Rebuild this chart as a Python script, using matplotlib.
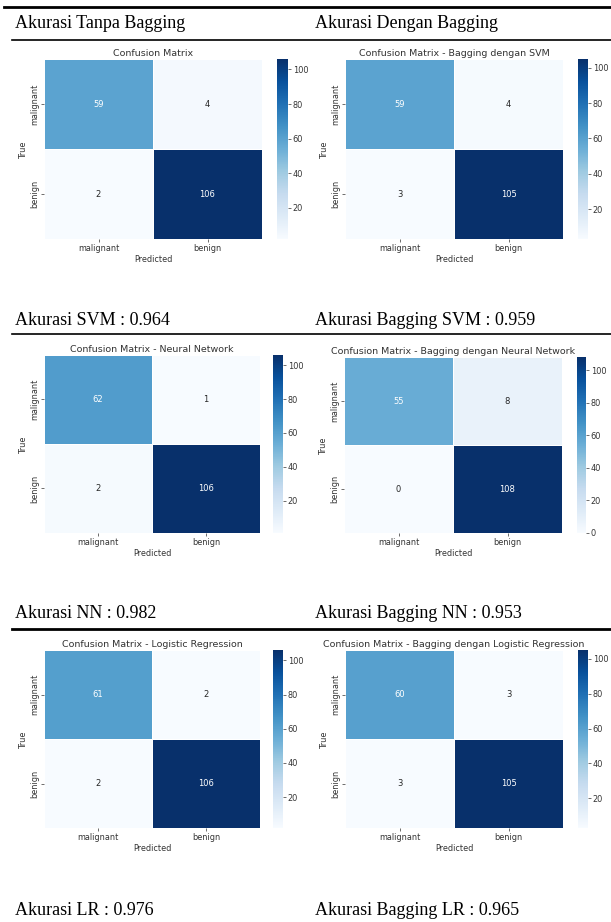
import matplotlib
matplotlib.use("Agg")
import matplotlib.pyplot as plt
import seaborn as sns
import numpy as np

# confusion matrices
labels = ["malignant", "benign"]
cm_svm = [[59, 4], [2, 106]]
cm_bag_svm = [[59, 4], [3, 105]]
cm_nn = [[62, 1], [2, 106]]
cm_bag_nn = [[55, 8], [0, 108]]
cm_lr = [[61, 2], [2, 106]]
cm_bag_lr = [[60, 3], [3, 105]]

titles = ["Confusion Matrix",
          "Confusion Matrix - Bagging dengan SVM",
          "Confusion Matrix - Neural Network",
          "Confusion Matrix - Bagging dengan Neural Network",
          "Confusion Matrix - Logistic Regression",
          "Confusion Matrix - Bagging dengan Logistic Regression"]
akurasi = ["Akurasi SVM : 0.964", "Akurasi Bagging SVM : 0.959",
           "Akurasi NN : 0.982", "Akurasi Bagging NN : 0.953",
           "Akurasi LR : 0.976", "Akurasi Bagging LR : 0.965"]
headers = ["Akurasi Tanpa Bagging", "Akurasi Dengan Bagging"]

W, H = 611, 922
fig = plt.figure(figsize=(W / 100, H / 100), dpi=100)

def box(x0, y0, x1, y1):
    # pixel box (top-left origin) -> figure fraction
    return [x0 / W, 1 - y1 / H, (x1 - x0) / W, (y1 - y0) / H]

# heatmap and colorbar boxes in pixels
heat_boxes = [(44, 59, 262, 239), (345, 59, 563, 239),
              (44, 355, 260, 533), (344, 357, 562, 533),
              (44, 650, 260, 828), (345, 650, 563, 828)]
cbar_boxes = [(277, 59, 288, 239), (578, 59, 588, 239),
              (273, 355, 283, 533), (577, 357, 586, 533),
              (273, 650, 283, 828), (578, 650, 588, 828)]

txt = "#333333"
cms = [cm_svm, cm_bag_svm, cm_nn, cm_bag_nn, cm_lr, cm_bag_lr]
for cm, t, hb, cb in zip(cms, titles, heat_boxes, cbar_boxes):
    ax = fig.add_axes(box(*hb))
    cax = fig.add_axes(box(*cb))
    sns.heatmap(np.array(cm), annot=True, fmt="d", cmap="Blues", ax=ax, cbar_ax=cax,
                xticklabels=labels, yticklabels=labels, linewidths=0.5, linecolor="white",
                annot_kws={"fontsize": 6.0})
    ax.set_title(t, fontsize=6.8, pad=2.5, color=txt)
    ax.set_xlabel("Predicted", fontsize=5.9, labelpad=1.5, color=txt)
    ax.set_ylabel("True", fontsize=5.9, labelpad=1.5, color=txt)
    ax.tick_params(labelsize=5.9, length=2, width=0.5, pad=1.5, colors=txt)
    cax.tick_params(labelsize=5.9, length=2, width=0.5, pad=1.5, colors=txt)

# table text
serif = "Liberation Serif"
fig.text(15 / W, 1 - 24 / H, headers[0], family=serif, fontsize=13, va="center")
fig.text(315 / W, 1 - 24 / H, headers[1], family=serif, fontsize=13, va="center")
acc_y = [320, 320, 613, 613, 910, 910]
acc_x = [15, 315, 15, 315, 15, 315]
for s, x, y in zip(akurasi, acc_x, acc_y):
    fig.text(x / W, 1 - y / H, s, family=serif, fontsize=13, va="center")

# table rules
for y, x0, lw in [(7, 4, 2), (40, 12, 1.2), (334, 12, 1.2), (629, 12, 2)]:
    fig.add_artist(plt.Line2D([x0 / W, 1], [1 - y / H, 1 - y / H], color="black", lw=lw))

fig.savefig("out.png", dpi=100)
